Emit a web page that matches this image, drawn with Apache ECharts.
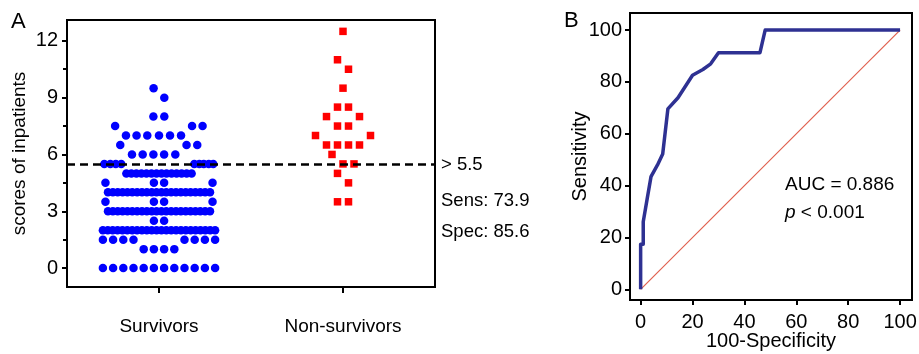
<!DOCTYPE html>
<html>
<head>
<meta charset="utf-8">
<script src="https://cdn.jsdelivr.net/npm/echarts@6/dist/echarts.min.js"></script>
<style>
  html, body { margin: 0; padding: 0; background: #fff; }
  #main { width: 919px; height: 354px; }
</style>
</head>
<body>
<div id="main"></div>
<script>
// ---- panel A: scores, one row per score level ----
const groups = ['Survivors', 'Non-survivors'];
const survivorScores = [0, 1, 1.5, 2, 2.5, 3, 3.5, 4, 4.5, 5, 5.5, 6, 6.5, 7, 7.5, 8, 9, 9.5];
const survivorCounts = [12, 4, 8, 24, 2, 22, 4, 22, 4, 14, 9, 5, 3, 6, 3, 2, 1, 1];
// where each dot sits in its row, in dot widths from the group centre
// (a row with fewer offsets than dots is packed evenly between its two ends)
const survivorOffsets = [
  [-5.5, -4.5, -3.5, -2.5, -1.5, -0.5, 0.5, 1.5, 2.5, 3.5, 4.5, 5.5],
  [-1.5, -0.5, 0.5, 1.5],
  [-5.5, -4.5, -3.5, -2.5, 2.5, 3.5, 4.5, 5.5],
  [-5.5, 5.5],
  [-0.5, 0.5],
  [-5, 5],
  [-5.25, -0.5, 0.5, 5.25],
  [-5, 5],
  [-5.25, -0.5, 0.5, 5.25],
  [-3.2, 3.2],
  [-5.36, -4.77, -4.24, -3.7, 3.46, 3.95, 4.39, 4.88, 5.32],
  [-2.65, -1.6, -0.55, 0.5, 1.6],
  [-3.8, 2.7, 3.75],
  [-3.24, -2.2, -1.15, 0, 1.08, 2.16],
  [-4.3, 3.24, 4.27],
  [-0.55, 0.52],
  [0.52],
  [-0.53]
];
const nonSurvivorScores = [12.5, 11, 10.5, 9.5, 8.5, 8, 7.5, 7, 6.5, 6, 5.5, 5, 4.5, 3.5];
// in half square widths from the group centre
const nonSurvivorOffsets = [[0], [-1], [1], [0], [-1, 1], [-3, 3], [-1, 1], [-5, 5],
  [-3, -1, 1, 3], [-2], [0, 2], [-1], [1], [-1, 1]];
const cutoff = 5.5;
const scoreTicks = [0, 3, 6, 9, 12];
const scoreMinorTicks = [1.5, 4.5, 7.5, 10.5];

// ---- panel B: ROC curve ----
const oneMinusSpec = [0, 0, 1, 1, 2.5, 4, 6.5, 8.5, 10.5, 14.4, 20, 24, 27, 30, 46, 48, 100];
const sensitivity = [0, 17.4, 17.4, 26.1, 34.8, 43.5, 48, 52.2, 69.6, 73.9, 82.6, 84.8, 87, 91.3, 91.3, 100, 100];
const referenceLine = [0, 100];
const rocTicks = [0, 20, 40, 60, 80, 100];

const FONT = 'Liberation Sans, Arial, sans-serif';
const dotStep = 10.2 / 184;   // one dot width in x units
const squareStep = 5.5 / 184;

let survivorData = [];
survivorScores.forEach((s, i) => {
  let offs = survivorOffsets[i];
  let n = survivorCounts[i];
  if (offs.length !== n) {
    let lo = offs[0], hi = offs[offs.length - 1];
    offs = [];
    for (let k = 0; k < n; k++) offs.push(lo + (hi - lo) * k / (n - 1));
  }
  offs.forEach(o => survivorData.push([1 + o * dotStep, s]));
});
let nonSurvivorData = [];
nonSurvivorScores.forEach((s, i) => {
  nonSurvivorOffsets[i].forEach(o => nonSurvivorData.push([2 + o * squareStep, s]));
});
let rocData = oneMinusSpec.map((x, i) => [x, sensitivity[i]]);

const axisLineStyle = { color: '#000', width: 2 };

let chart = echarts.init(document.getElementById('main'));
chart.setOption({
  animation: false,
  textStyle: { fontFamily: FONT },
  grid: [
    { left: 67, top: 20, width: 368, height: 267, show: true, borderColor: '#000', borderWidth: 2, outerBoundsMode: 'none' },
    { left: 630, top: 13, width: 282, height: 287, show: true, borderColor: '#000', borderWidth: 2, outerBoundsMode: 'none' }
  ],
  xAxis: [
    {
      gridIndex: 0, type: 'value', min: 0.5, max: 2.5,
      splitLine: { show: false },
      axisLine: { show: true, onZero: false, lineStyle: axisLineStyle },
      axisTick: { customValues: [1, 2], length: 6, lineStyle: axisLineStyle },
      axisLabel: {
        customValues: [1, 2], formatter: v => groups[Math.round(v) - 1],
        fontSize: 19, color: '#000', margin: 30, fontFamily: FONT
      }
    },
    {
      gridIndex: 1, type: 'value', min: -4.1, max: 104.6,
      name: '100-Specificity', nameLocation: 'middle', nameGap: 31, nameMoveOverlap: false,
      nameTextStyle: { fontSize: 20, color: '#000', fontFamily: FONT },
      splitLine: { show: false },
      axisLine: { show: true, onZero: false, lineStyle: axisLineStyle },
      axisTick: { customValues: rocTicks, length: 5, lineStyle: axisLineStyle },
      axisLabel: { customValues: rocTicks, fontSize: 20, color: '#000', margin: 12, fontFamily: FONT }
    }
  ],
  yAxis: [
    {
      gridIndex: 0, type: 'value', min: -1, max: 13.1,
      name: 'scores of inpatients', nameLocation: 'middle', nameGap: 38, nameMoveOverlap: false,
      nameTextStyle: { fontSize: 19, color: '#000', fontFamily: FONT },
      splitLine: { show: false },
      axisLine: { show: true, onZero: false, lineStyle: axisLineStyle },
      axisTick: { customValues: scoreTicks, length: 5, lineStyle: axisLineStyle },
      axisLabel: { customValues: scoreTicks, fontSize: 20, color: '#000', margin: 9, fontFamily: FONT }
    },
    {
      gridIndex: 0, type: 'value', min: -1, max: 13.1, position: 'left',
      splitLine: { show: false },
      axisLine: { show: false },
      axisTick: { show: true, customValues: scoreMinorTicks, length: 4, lineStyle: axisLineStyle },
      axisLabel: { show: false }
    },
    {
      gridIndex: 1, type: 'value', min: -4.1, max: 106.6,
      name: 'Sensitivity', nameLocation: 'middle', nameGap: 40, nameMoveOverlap: false,
      nameTextStyle: { fontSize: 20, color: '#000', fontFamily: FONT },
      splitLine: { show: false },
      axisLine: { show: true, onZero: false, lineStyle: axisLineStyle },
      axisTick: { customValues: rocTicks, length: 5, lineStyle: axisLineStyle },
      axisLabel: { customValues: rocTicks, fontSize: 20, color: '#000', margin: 8, fontFamily: FONT }
    }
  ],
  series: [
    {
      name: 'Survivors', type: 'scatter', xAxisIndex: 0, yAxisIndex: 0,
      symbol: 'circle', symbolSize: 8.5,
      itemStyle: { color: '#0000ff', opacity: 1 },
      data: survivorData,
      markLine: {
        silent: true, symbol: 'none', label: { show: false },
        lineStyle: { color: '#000', width: 2.5, type: [8, 5] },
        data: [{ yAxis: cutoff }]
      }
    },
    {
      name: 'Non-survivors', type: 'scatter', xAxisIndex: 0, yAxisIndex: 0,
      symbol: 'rect', symbolSize: 7.5,
      itemStyle: { color: '#ff0000', opacity: 1 },
      data: nonSurvivorData
    },
    {
      name: 'reference', type: 'line', xAxisIndex: 1, yAxisIndex: 2,
      showSymbol: false, silent: true,
      lineStyle: { color: '#e0604f', width: 1.2, opacity: 1 },
      data: referenceLine.map(v => [v, v])
    },
    {
      name: 'ROC', type: 'line', xAxisIndex: 1, yAxisIndex: 2,
      showSymbol: false,
      lineStyle: { color: '#2e3192', width: 3.5, join: 'round' },
      data: rocData
    }
  ],
  graphic: [
    { type: 'text', style: { text: 'A', x: 11, y: 22, verticalAlign: 'middle', font: '22px ' + FONT, fill: '#000' } },
    { type: 'text', style: { text: 'B', x: 564, y: 21, verticalAlign: 'middle', font: '22px ' + FONT, fill: '#000' } },
    { type: 'text', style: { text: '> 5.5', x: 441, y: 165, verticalAlign: 'middle', font: '18.5px ' + FONT, fill: '#000' } },
    { type: 'text', style: { text: 'Sens: 73.9', x: 441, y: 201, verticalAlign: 'middle', font: '18.5px ' + FONT, fill: '#000' } },
    { type: 'text', style: { text: 'Spec: 85.6', x: 441, y: 232, verticalAlign: 'middle', font: '18.5px ' + FONT, fill: '#000' } },
    { type: 'text', style: { text: 'AUC = 0.886', x: 785, y: 185, verticalAlign: 'middle', font: '19px ' + FONT, fill: '#000' } },
    {
      type: 'text',
      style: {
        text: '{i|p} < 0.001', x: 785, y: 213, verticalAlign: 'middle',
        font: '19px ' + FONT, fill: '#000',
        rich: { i: { fontStyle: 'italic', fontSize: 19, fontFamily: FONT } }
      }
    }
  ]
});
</script>
</body>
</html>
